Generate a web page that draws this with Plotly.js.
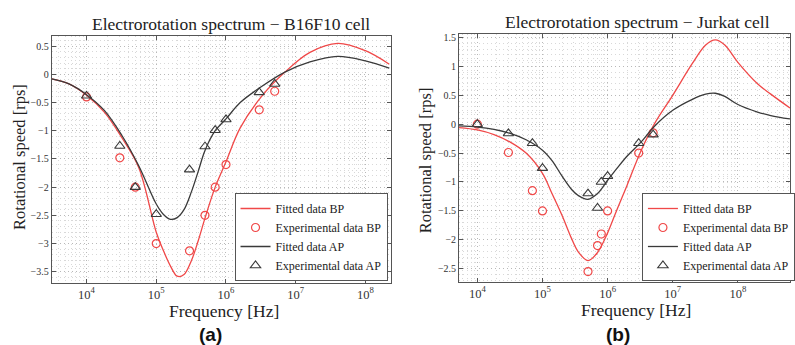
<!DOCTYPE html>
<html><head><meta charset="utf-8">
<script src="https://cdn.plot.ly/plotly-3.0.1.min.js"></script>
<style>html,body{margin:0;padding:0;background:#fff}#chart{width:795px;height:345px}</style>
</head><body><div id="chart"></div>
<script>
// ---- Panel (a): B16F10 ----
const expFreqA = [1e4, 3e4, 5e4, 1e5, 3e5, 5e5, 7e5, 1e6, 3e6, 5e6];
const expBP_A  = [-0.4, -1.48, -2.0, -3.0, -3.13, -2.5, -2.0, -1.6, -0.63, -0.3];
const expAP_A  = [-0.38, -1.27, -2.0, -2.48, -1.69, -1.28, -0.99, -0.8, -0.32, -0.17];
const fitFreqA = [3.16e3, 5.6e3, 1e4, 1.8e4, 3.2e4, 5.6e4, 1e5, 1.26e5, 1.6e5, 2e5, 2.5e5, 3.2e5, 4e5, 5e5, 7e5, 1e6, 1.6e6, 3.2e6, 7e6, 1.6e7, 4e7, 1e8, 2.2e8];
const fitBP_A  = [-0.08, -0.17, -0.37, -0.67, -1.12, -1.65, -2.8, -3.12, -3.4, -3.58, -3.55, -3.3, -2.95, -2.55, -2.0, -1.55, -0.95, -0.4, 0.04, 0.39, 0.55, 0.42, 0.18];
const fitAP_A  = [-0.08, -0.17, -0.36, -0.64, -1.08, -1.62, -2.3, -2.48, -2.57, -2.54, -2.4, -2.08, -1.72, -1.35, -1.0, -0.79, -0.5, -0.22, 0.04, 0.22, 0.32, 0.24, 0.11];

// ---- Panel (b): Jurkat ----
const expFreqB = [1e4, 3e4, 7e4, 1e5, 5e5, 7e5, 8e5, 1e6, 3e6, 5e6];
const expBP_B  = [0.0, -0.49, -1.15, -1.5, -2.55, -2.1, -1.9, -1.5, -0.5, -0.15];
const expAP_B  = [0.0, -0.16, -0.33, -0.76, -1.2, -1.45, -1.0, -0.9, -0.33, -0.18];
const fitFreqB = [5.2e3, 1e4, 1.8e4, 3.2e4, 5.6e4, 1e5, 1.4e5, 2e5, 2.8e5, 3.5e5, 5e5, 7e5, 1e6, 1.4e6, 2e6, 3.2e6, 5.2e6, 1e7, 2e7, 3.2e7, 4.5e7, 6.3e7, 1e8, 2e8, 3.2e8, 6.3e8];
const fitBP_B  = [-0.06, -0.1, -0.18, -0.31, -0.5, -0.85, -1.2, -1.58, -1.98, -2.2, -2.36, -2.22, -1.88, -1.47, -1.05, -0.48, 0.0, 0.5, 1.05, 1.37, 1.46, 1.37, 1.07, 0.7, 0.52, 0.28];
const fitAP_B  = [-0.03, -0.05, -0.09, -0.16, -0.27, -0.45, -0.63, -0.9, -1.13, -1.23, -1.3, -1.2, -0.97, -0.76, -0.55, -0.32, -0.04, 0.24, 0.43, 0.52, 0.535, 0.48, 0.34, 0.21, 0.15, 0.09];

const names = ['Fitted data BP', 'Experimental data BP', 'Fitted data AP', 'Experimental data AP'];
const RED = '#f04848', DARK = '#3a3a3a';
const SERIF = 'Liberation Serif';

function panel(xa, ya, leg, fF, fBP, fAP, eF, eBP, eAP) {
  return [
    {x: fF, y: fBP, xaxis: xa, yaxis: ya, legend: leg, name: names[0], mode: 'lines',
     line: {color: RED, width: 1.3, shape: 'spline', smoothing: 1}},
    {x: eF, y: eBP, xaxis: xa, yaxis: ya, legend: leg, name: names[1], mode: 'markers',
     marker: {symbol: 'circle-open', size: 8, color: RED, line: {width: 1.2}}},
    {x: fF, y: fAP, xaxis: xa, yaxis: ya, legend: leg, name: names[2], mode: 'lines',
     line: {color: DARK, width: 1.3, shape: 'spline', smoothing: 1}},
    {x: eF, y: eAP, xaxis: xa, yaxis: ya, legend: leg, name: names[3], mode: 'markers',
     marker: {symbol: 'triangle-up-open', size: 9, color: DARK, line: {width: 1.1}}}
  ];
}

const data = [].concat(
  panel('x', 'y', 'legend', fitFreqA, fitBP_A, fitAP_A, expFreqA, expBP_A, expAP_A),
  panel('x2', 'y2', 'legend2', fitFreqB, fitBP_B, fitAP_B, expFreqB, expBP_B, expAP_B)
);

const W = 795, H = 345;
const px = v => v / W, py = v => 1 - v / H;

const GRID_MAJ = '#b8b8b8', GRID_MIN = '#d8d8d8', DASH = '1px,3px';

function xax(domain, range, anchor) {
  return {
    type: 'log', domain: domain, range: range, anchor: anchor, dtick: 1, exponentformat: 'power',
    showline: true, linecolor: '#555', linewidth: 1, mirror: 'ticks', ticks: 'inside', ticklen: 4, tickcolor: '#555',
    showgrid: true, gridcolor: GRID_MAJ, griddash: DASH, gridwidth: 1, zeroline: false,
    minor: {dtick: 'D1', showgrid: true, gridcolor: GRID_MIN, griddash: DASH, ticks: ''},
    tickfont: {family: SERIF, size: 10, color: '#333'}
  };
}
function yax(domain, range, anchor) {
  return {
    domain: domain, range: range, anchor: anchor, dtick: 0.5,
    showline: true, linecolor: '#555', linewidth: 1, mirror: 'ticks', ticks: 'inside', ticklen: 4, tickcolor: '#555',
    showgrid: true, gridcolor: GRID_MAJ, griddash: DASH, gridwidth: 1, zeroline: false,
    minor: {dtick: 0.1, showgrid: true, gridcolor: GRID_MIN, griddash: DASH, ticks: ''},
    tickfont: {family: SERIF, size: 10, color: '#333'}
  };
}

function ann(text, x, y, size, opts) {
  return Object.assign({text: text, xref: 'paper', yref: 'paper', x: px(x), y: py(y), xanchor: 'center', yanchor: 'middle',
    showarrow: false, font: {family: SERIF, size: size, color: '#222'}}, opts || {});
}

const legendCommon = {
  bgcolor: '#fff', bordercolor: '#555', borderwidth: 1, xanchor: 'left', yanchor: 'bottom',
  font: {family: SERIF, size: 12, color: '#222'}, tracegroupgap: 0
};

const layout = {
  width: W, height: H, margin: {l: 0, r: 0, t: 0, b: 0},
  paper_bgcolor: '#fff', plot_bgcolor: '#fff', showlegend: true,
  xaxis: xax([px(52), px(393)], [3.5, 8.36], 'y'),
  yaxis: yax([1 - 283 / H, 1 - 36 / H], [-3.7, 0.68], 'x'),
  xaxis2: xax([px(462), 1], [3.72, 8.8], 'y2'),
  yaxis2: yax([1 - 282 / H, 1 - 34 / H], [-2.73, 1.56], 'x2'),
  legend: Object.assign({x: px(236), y: py(281)}, legendCommon),
  legend2: Object.assign({x: px(646), y: py(281)}, legendCommon),
  annotations: [
    ann('Electrorotation spectrum \u2212 B16F10 cell', 232, 24, 17.5),
    ann('Electrorotation spectrum \u2212 Jurkat cell', 642, 22.5, 17.5),
    ann('Frequency [Hz]', 225, 311, 17.5),
    ann('Frequency [Hz]', 640, 310, 17.5),
    ann('Rotational speed [rps]', 19, 157, 16.5, {textangle: -90}),
    ann('Rotational speed [rps]', 428, 160, 16.5, {textangle: -90}),
    ann('<b>(a)</b>', 212, 334, 19, {font: {family: 'Liberation Sans', size: 19, color: '#111'}}),
    ann('<b>(b)</b>', 622, 334, 19, {font: {family: 'Liberation Sans', size: 19, color: '#111'}})
  ]
};

Plotly.newPlot('chart', data, layout, {staticPlot: true, displayModeBar: false});
</script>
</body></html>
